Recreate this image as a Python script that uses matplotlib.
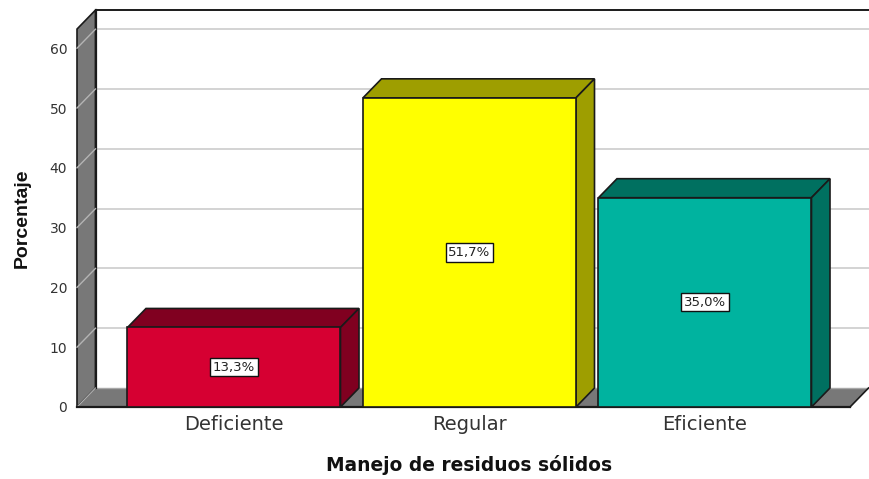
import matplotlib
matplotlib.use("Agg")
import matplotlib.pyplot as plt
from matplotlib.patches import Polygon

plt.rcParams['font.family'] = ['Liberation Sans', 'DejaVu Sans']

categories = ['Deficiente', 'Regular', 'Eficiente']
values = [13.3, 51.7, 35.0]
labels = ['13,3%', '51,7%', '35,0%']
front_colors = ['#d60032', '#ffff00', '#00b39f']
dark_colors = ['#800020', '#9e9e00', '#007060']
yticks = [0, 10, 20, 30, 40, 50, 60]

W, H = 870, 479
fig = plt.figure(figsize=(W / 100, H / 100), dpi=100)

# front plane of the box in pixels: x 77..850, y 407 at zero, 5.98 px per unit
left, right, base, ppu, step = 77, 850, 407, 5.98, 235.5
top_val = 63.2
ax = fig.add_axes([left / W, (H - base) / H, (right - left) / W, top_val * ppu / H])
ax.set_xlim((left - 234) / step, (right - 234) / step)
ax.set_ylim(0, top_val)
for s in ax.spines.values():
    s.set_visible(False)
ax.patch.set_visible(False)

dx = 18.5 / step
dy = 19 / ppu
x0, x1 = ax.get_xlim()
edge = '#1a1a1a'
wall = '#787878'


def poly(pts, fc, lw=1.2, ec=edge, z=2):
    ax.add_patch(Polygon(pts, closed=True, fc=fc, ec=ec, lw=lw, zorder=z, clip_on=False))


# walls
poly([(x0, 0), (x0 + dx, dy), (x0 + dx, top_val + dy), (x0, top_val)], wall)
poly([(x0, 0), (x0 + dx, dy), (x1 + dx, dy), (x1, 0)], wall, ec='none')
ax.plot([x0 + dx, x1 + dx + 1], [dy, dy], color='#a8a8a8', lw=1.0, clip_on=False, zorder=2)
ax.plot([x1, x1 + dx], [0, dy], color=edge, lw=1.2, clip_on=False, zorder=2)
ax.plot([x0 + dx, x1 + dx + 1], [top_val + dy, top_val + dy], color=edge, lw=1.4, clip_on=False, zorder=2)
ax.plot([x0 + dx, x0 + dx], [dy, top_val + dy], color=edge, lw=1.6, clip_on=False, zorder=3)

# gridlines on the back wall and the left wall
for t in yticks[1:]:
    ax.plot([x0 + dx, x1 + dx + 1], [t + dy, t + dy], color='#d0d0d0', lw=1.3, clip_on=False, zorder=1)
    ax.plot([x0, x0 + dx], [t, t + dy], color='#b4b4b4', lw=1.0, clip_on=False, zorder=3)
ax.plot([x0, x0 + dx], [0, dy], color='#b4b4b4', lw=0.8, zorder=3, clip_on=False)

# bars
bw = 213 / step
for i, (v, lab) in enumerate(zip(values, labels)):
    a, b = i - bw / 2, i + bw / 2
    poly([(a, v), (a + dx, v + dy), (b + dx, v + dy), (b, v)], dark_colors[i], z=4)
    poly([(b, 0), (b + dx, dy), (b + dx, v + dy), (b, v)], dark_colors[i], z=4)
    ax.bar(i, v, width=bw, color=front_colors[i], edgecolor=edge, linewidth=1.2, zorder=5)
    ax.text(i, v / 2, lab, ha='center', va='center', fontsize=9.5, color='#222222', zorder=6,
            family='DejaVu Sans',
            bbox=dict(boxstyle='square,pad=0.2', fc='white', ec='#111111', lw=1.0))

ax.plot([x0, x1], [0, 0], color=edge, lw=1.6, clip_on=False, zorder=4)

ax.set_xticks(range(len(categories)))
ax.set_xticklabels(categories, fontsize=14, color='#333333', family='DejaVu Sans')
ax.set_yticks(yticks)
ax.set_yticklabels([str(t) for t in yticks], fontsize=10, color='#333333', family='DejaVu Sans')
ax.tick_params(axis='x', length=0, pad=6)
ax.tick_params(axis='y', length=0, pad=7)

fig.text(469 / W, 1 - 465 / H, 'Manejo de residuos sólidos', ha='center', va='center',
         fontsize=13.4, fontweight='bold', color='#111111', family='DejaVu Sans')
fig.text(22 / W, 1 - 218 / H, 'Porcentaje', ha='center', va='center', rotation=90,
         fontsize=14, fontweight='bold', color='#111111')

fig.savefig('out.png', dpi=100)
